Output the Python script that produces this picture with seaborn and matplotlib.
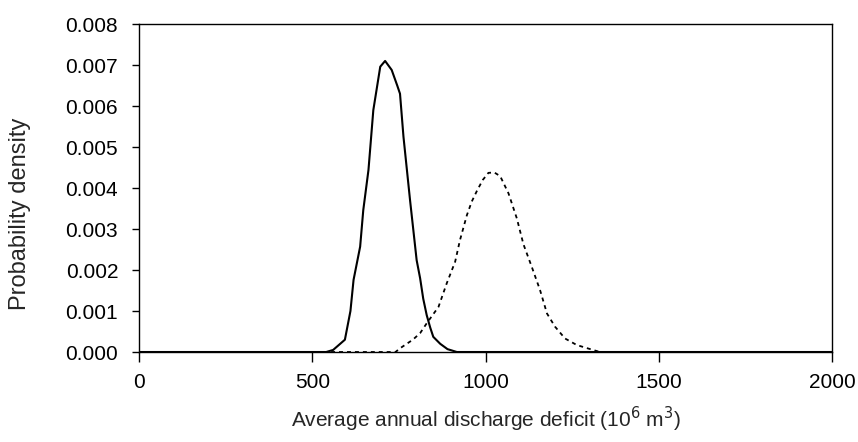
import pandas as pd
import seaborn as sns
import matplotlib.pyplot as plt

# Solid curve
solid_x = [0, 540, 560, 594, 610, 619, 638, 647, 662, 676, 696, 710, 729, 745, 753,
           763, 782, 801, 811, 820, 830, 840, 849, 869, 890, 917, 2000]
solid_y = [0, 0, 0.00005, 0.0003, 0.0010, 0.00176, 0.00257, 0.00346, 0.00444, 0.0059,
           0.00696, 0.0071, 0.00688, 0.0065, 0.0063, 0.00525, 0.0037, 0.00224, 0.0018,
           0.0013, 0.0009, 0.0006, 0.00037, 0.0002, 0.00007, 0, 0]

# Dashed curve
dashed_x = [50, 740, 753, 790, 811, 830, 864, 888, 912, 926, 946, 960, 976, 992, 1008,
            1025, 1042, 1066, 1090, 1109, 1133, 1157, 1177, 1200, 1229, 1263, 1302, 1330, 1540]
dashed_y = [0, 0, 0.00009, 0.0003, 0.00046, 0.0007, 0.0011, 0.00168, 0.0022, 0.00273,
            0.00334, 0.00367, 0.00395, 0.0042, 0.00437, 0.00438, 0.00429, 0.00387, 0.00326,
            0.00263, 0.00208, 0.00151, 0.00094, 0.00062, 0.00033, 0.00017, 0.00007, 0, 0]

x_ticks = [0, 500, 1000, 1500, 2000]
y_ticks = [0.000, 0.001, 0.002, 0.003, 0.004, 0.005, 0.006, 0.007, 0.008]

solid_df = pd.DataFrame({'x': solid_x, 'y': solid_y})
dashed_df = pd.DataFrame({'x': dashed_x, 'y': dashed_y})

sns.set_style('ticks')
plt.rcParams['font.family'] = ['Liberation Sans', 'DejaVu Sans']

fig = plt.figure(figsize=(8.58, 4.42), dpi=100)
ax = fig.add_axes([0.162, 0.2036, 0.808, 0.742])

sns.lineplot(data=dashed_df, x='x', y='y', color='black', linewidth=1.3,
             linestyle=(0, (2.2, 2.2)), ax=ax, sort=False)
sns.lineplot(data=solid_df, x='x', y='y', color='black', linewidth=1.5, ax=ax, sort=False)

ax.set_xlim(0, 2000)
ax.set_ylim(0, 0.008)
ax.set_xticks(x_ticks)
ax.set_yticks(y_ticks)
ax.set_yticklabels([f'{v:.3f}' for v in y_ticks])
ax.tick_params(axis='both', labelsize=15, colors='black', width=1, direction='out')
ax.tick_params(axis='x', length=7, pad=8)
ax.tick_params(axis='y', length=5, pad=10)
for s in ax.spines.values():
    s.set_visible(True)
    s.set_color('black')
    s.set_linewidth(1)

ax.set_xlabel('Average annual discharge deficit (10$^6$ m$^3$)', fontsize=15, va='center')
ax.set_ylabel('Probability density', fontsize=17, va='center')
ax.xaxis.set_label_coords(0.5, -0.207)
ax.yaxis.set_label_coords(-0.172, 0.42)

plt.savefig('out.png', dpi=100)
plt.close()
